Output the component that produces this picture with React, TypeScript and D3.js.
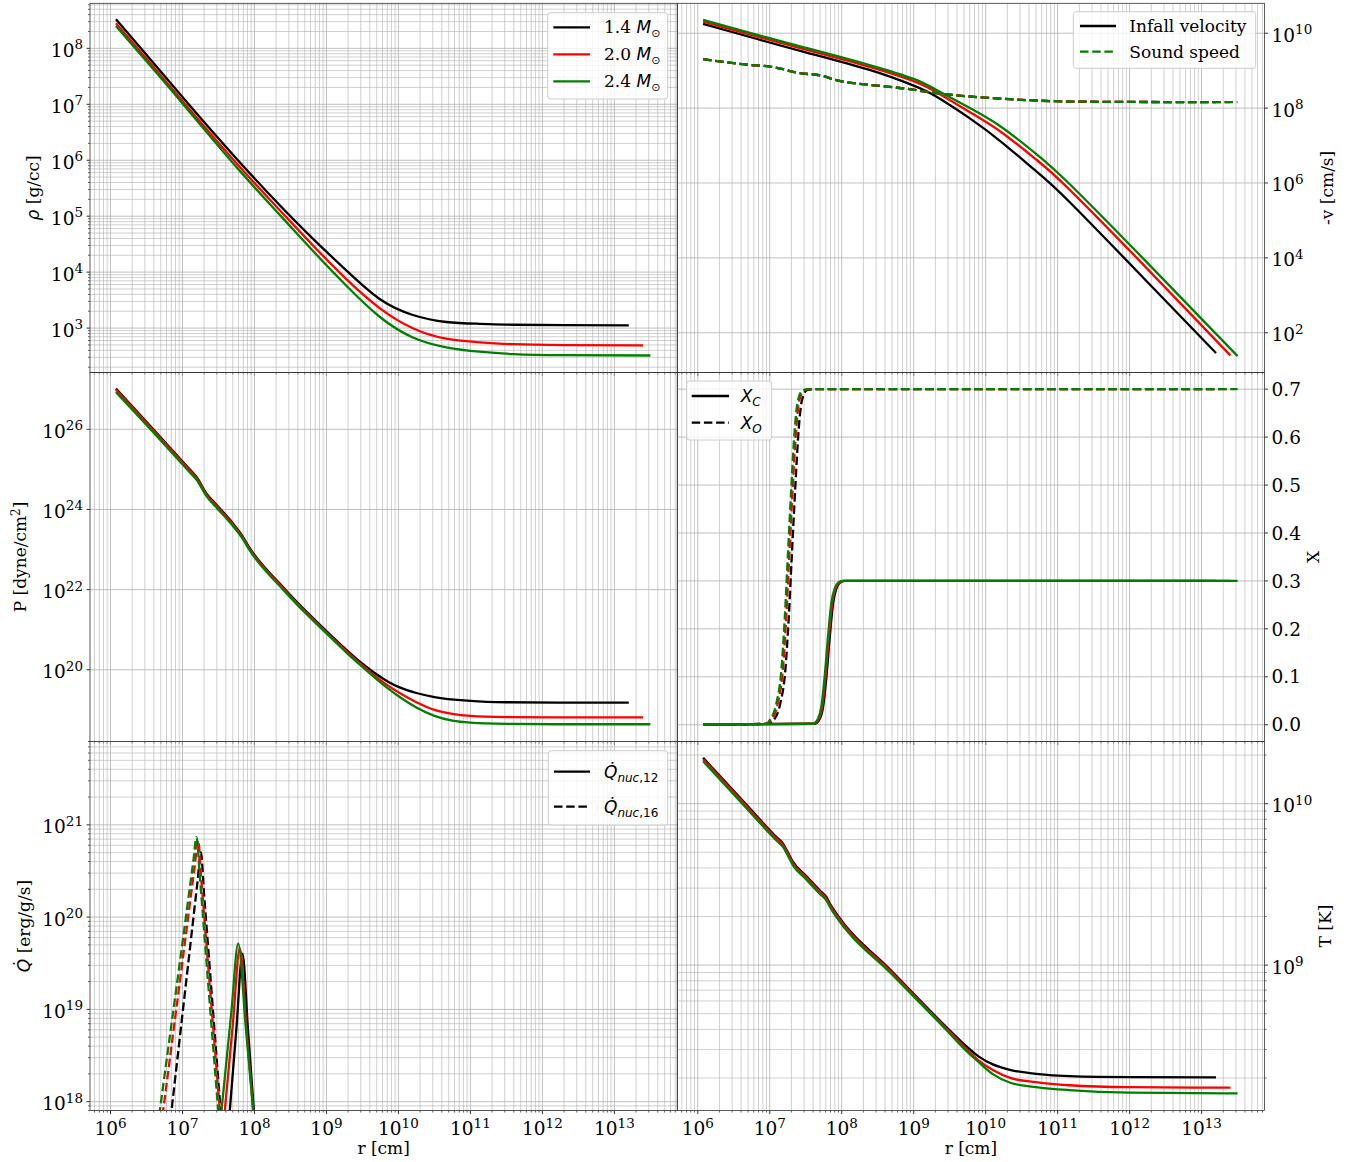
import React from "react";
import * as d3 from "d3";

// Profiles are stored as [log10 r (cm), log10 value]; abundances use the plain mass fraction.
type Pt = [number, number];

const MASS_LABELS = ["1.4", "2.0", "2.4"];
const MASS_COLORS = ["#000000", "#ff0000", "#008000"];

const X_LOG_DOMAIN: [number, number] = [5.7155, 13.874];
const X_LABEL = "r [cm]";

// Density rho [g/cc]
const RHO_14: Pt[] = [[6.076, 8.52], [6.6, 7.735], [7.08, 7.01], [7.77, 6.0], [8.352, 5.195], [8.814, 4.594], [9.277, 4.029], [9.739, 3.52], [10.201, 3.234], [10.665, 3.109], [11.127, 3.077], [11.6, 3.06], [12.3, 3.052], [13.2, 3.05]];
const RHO_20: Pt[] = [[6.076, 8.447], [6.6, 7.665], [7.08, 6.94], [7.77, 5.92], [8.352, 5.105], [8.814, 4.477], [9.277, 3.875], [9.739, 3.358], [10.201, 2.998], [10.665, 2.81], [11.127, 2.745], [11.6, 2.712], [12.3, 2.695], [13.4, 2.69]];
const RHO_24: Pt[] = [[6.076, 8.4], [6.6, 7.62], [7.08, 6.895], [7.77, 5.85], [8.352, 5.024], [8.814, 4.377], [9.277, 3.757], [9.739, 3.203], [10.201, 2.833], [10.665, 2.657], [11.127, 2.578], [11.6, 2.535], [12.3, 2.515], [13.5, 2.51]];

// Infall velocity -v [cm/s]
const VIN_14: Pt[] = [[6.074, 10.248], [6.8, 9.86], [7.461, 9.51], [8.387, 9.02], [9.0, 8.6], [9.312, 8.31], [9.8, 7.7], [10.237, 7.067], [10.7, 6.317], [11.162, 5.5], [12.2, 3.45], [13.2, 1.456]];
const VIN_20: Pt[] = [[6.074, 10.31], [6.8, 9.925], [7.461, 9.58], [8.387, 9.1], [9.0, 8.72], [9.312, 8.43], [9.8, 7.87], [10.237, 7.33], [10.7, 6.63], [11.162, 5.83], [12.2, 3.8], [13.4, 1.395]];
const VIN_24: Pt[] = [[6.074, 10.355], [6.8, 9.97], [7.461, 9.63], [8.387, 9.15], [9.0, 8.78], [9.312, 8.49], [9.8, 7.98], [10.237, 7.47], [10.7, 6.78], [11.162, 5.98], [12.2, 3.96], [13.5, 1.376]];

// Sound speed c_s [cm/s]
const CS_14: Pt[] = [[6.074, 9.307], [6.722, 9.155], [6.999, 9.11], [7.184, 9.04], [7.369, 8.95], [7.739, 8.86], [7.878, 8.77], [8.016, 8.71], [8.387, 8.62], [8.849, 8.53], [9.312, 8.4], [9.774, 8.31], [10.237, 8.25], [10.7, 8.203], [11.162, 8.176], [12.0, 8.165], [13.2, 8.16]];
const CS_20: Pt[] = [[6.074, 9.307], [6.722, 9.155], [6.999, 9.11], [7.184, 9.04], [7.369, 8.95], [7.739, 8.86], [7.878, 8.77], [8.016, 8.71], [8.387, 8.62], [8.849, 8.53], [9.312, 8.4], [9.774, 8.31], [10.237, 8.25], [10.7, 8.203], [11.162, 8.176], [12.0, 8.165], [13.4, 8.16]];
const CS_24: Pt[] = [[6.074, 9.307], [6.722, 9.155], [6.999, 9.11], [7.184, 9.04], [7.369, 8.95], [7.739, 8.86], [7.878, 8.77], [8.016, 8.71], [8.387, 8.62], [8.849, 8.53], [9.312, 8.4], [9.774, 8.31], [10.237, 8.25], [10.7, 8.203], [11.162, 8.176], [12.0, 8.165], [13.5, 8.16]];

// Pressure P [dyne/cm^2]
const P_14: Pt[] = [[6.076, 27.016], [6.594, 26.0], [7.1, 25.0], [7.196, 24.81], [7.335, 24.394], [7.45, 24.16], [7.704, 23.645], [7.843, 23.31], [7.912, 23.1], [8.398, 22.06], [8.75, 21.4], [9.09, 20.81], [9.3, 20.46], [9.5, 20.15], [9.7, 19.88], [9.85, 19.71], [10.017, 19.56], [10.25, 19.42], [10.5, 19.32], [11.0, 19.225], [11.5, 19.19], [12.2, 19.18], [13.2, 19.18]];
const P_20: Pt[] = [[6.076, 26.99], [6.594, 25.975], [7.1, 24.975], [7.196, 24.785], [7.335, 24.37], [7.45, 24.135], [7.704, 23.62], [7.843, 23.285], [7.912, 23.075], [8.398, 22.035], [8.75, 21.375], [9.09, 20.78], [9.3, 20.43], [9.5, 20.11], [9.7, 19.81], [9.85, 19.61], [10.017, 19.42], [10.25, 19.19], [10.5, 19.0], [10.75, 18.9], [11.0, 18.85], [11.5, 18.82], [12.2, 18.81], [13.4, 18.81]];
const P_24: Pt[] = [[6.076, 26.93], [6.594, 25.93], [7.1, 24.93], [7.196, 24.74], [7.335, 24.33], [7.45, 24.09], [7.704, 23.58], [7.843, 23.25], [7.912, 23.04], [8.398, 22.0], [8.75, 21.34], [9.09, 20.75], [9.3, 20.39], [9.5, 20.07], [9.7, 19.76], [9.85, 19.54], [10.017, 19.32], [10.25, 19.06], [10.5, 18.85], [10.75, 18.73], [11.0, 18.68], [11.5, 18.65], [12.2, 18.64], [13.5, 18.64]];

// Carbon mass fraction X_C
const XC_14: Pt[] = [[6.074, 0], [7.625, 0.002], [7.695, 0.0125], [7.741, 0.037], [7.787, 0.099], [7.834, 0.183], [7.88, 0.253], [7.926, 0.284], [7.972, 0.296], [8.041, 0.3], [13.2, 0.3]];
const XC_20: Pt[] = [[6.074, 0], [7.612, 0.002], [7.682, 0.0125], [7.728, 0.037], [7.774, 0.099], [7.821, 0.183], [7.867, 0.253], [7.913, 0.284], [7.959, 0.296], [8.028, 0.3], [13.4, 0.3]];
const XC_24: Pt[] = [[6.074, 0], [7.6, 0.002], [7.67, 0.0125], [7.716, 0.037], [7.762, 0.099], [7.809, 0.183], [7.855, 0.253], [7.901, 0.284], [7.947, 0.296], [8.016, 0.3], [13.5, 0.3]];

// Oxygen mass fraction X_O
const XO_14: Pt[] = [[6.074, 0], [7.008, 0.002], [7.054, 0.009], [7.146, 0.044], [7.216, 0.113], [7.262, 0.218], [7.308, 0.357], [7.355, 0.496], [7.401, 0.614], [7.447, 0.677], [7.517, 0.698], [7.609, 0.7], [13.2, 0.7]];
const XO_20: Pt[] = [[6.074, 0], [6.973, 0.002], [7.019, 0.009], [7.111, 0.044], [7.181, 0.113], [7.227, 0.218], [7.273, 0.357], [7.32, 0.496], [7.366, 0.614], [7.412, 0.677], [7.482, 0.698], [7.574, 0.7], [13.4, 0.7]];
const XO_24: Pt[] = [[6.074, 0], [6.953, 0.002], [6.999, 0.009], [7.091, 0.044], [7.161, 0.113], [7.207, 0.218], [7.253, 0.357], [7.3, 0.496], [7.346, 0.614], [7.392, 0.677], [7.462, 0.698], [7.554, 0.7], [13.5, 0.7]];

// Nuclear heating rates [erg/g/s]
const Q12_14: Pt[] = [[7.6, 17.35], [7.658, 17.91], [7.75, 18.8], [7.834, 19.605], [7.91, 18.78], [7.991, 17.91], [8.06, 17.17]];
const Q12_20: Pt[] = [[7.52, 17.33], [7.589, 17.91], [7.7, 18.84], [7.797, 19.66], [7.89, 18.78], [7.982, 17.91], [8.06, 17.17]];
const Q12_24: Pt[] = [[7.47, 17.33], [7.543, 17.91], [7.68, 18.98], [7.774, 19.712], [7.88, 18.8], [7.982, 17.91], [8.06, 17.23]];
const Q16_14: Pt[] = [[6.68, 16.75], [6.849, 17.91], [7.05, 19.29], [7.21, 20.39], [7.256, 20.7], [7.3, 20.25], [7.4, 19.23], [7.529, 17.91], [7.63, 16.9]];
const Q16_20: Pt[] = [[6.55, 16.8], [6.733, 17.91], [7.0, 19.52], [7.17, 20.55], [7.218, 20.83], [7.26, 20.42], [7.37, 19.35], [7.519, 17.91], [7.62, 16.9]];
const Q16_24: Pt[] = [[6.5, 16.8], [6.687, 17.91], [7.0, 19.72], [7.15, 20.6], [7.196, 20.866], [7.24, 20.45], [7.35, 19.35], [7.496, 17.91], [7.6, 16.9]];

// Temperature T [K]
const T_14: Pt[] = [[6.074, 10.284], [6.6, 10.03], [7.1, 9.79], [7.184, 9.753], [7.25, 9.7], [7.323, 9.639], [7.5, 9.555], [7.693, 9.464], [7.786, 9.422], [7.85, 9.37], [7.924, 9.32], [8.7, 8.96], [9.45, 8.618], [9.7, 8.51], [9.9, 8.435], [10.1, 8.385], [10.35, 8.35], [10.7, 8.327], [11.16, 8.312], [12.0, 8.306], [13.2, 8.305]];
const T_20: Pt[] = [[6.074, 10.276], [6.6, 10.022], [7.1, 9.782], [7.184, 9.745], [7.25, 9.692], [7.323, 9.631], [7.5, 9.547], [7.693, 9.456], [7.786, 9.414], [7.85, 9.362], [7.924, 9.312], [8.7, 8.952], [9.45, 8.61], [9.7, 8.495], [9.9, 8.41], [10.1, 8.35], [10.35, 8.3], [10.7, 8.275], [11.16, 8.256], [12.0, 8.244], [13.4, 8.241]];
const T_24: Pt[] = [[6.074, 10.263], [6.6, 10.009], [7.1, 9.769], [7.184, 9.732], [7.25, 9.679], [7.323, 9.618], [7.5, 9.534], [7.693, 9.443], [7.786, 9.401], [7.85, 9.349], [7.924, 9.299], [8.7, 8.942], [9.45, 8.6], [9.7, 8.483], [9.9, 8.4], [10.1, 8.325], [10.35, 8.27], [10.7, 8.245], [11.16, 8.226], [12.0, 8.21], [13.5, 8.206]];

// Axis ranges (log10 bounds for log axes)
const RHO_LIM: [number, number] = [2.208, 8.805];
const VEL_LIM: [number, number] = [0.94, 10.8];
const P_LIM: [number, number] = [18.21, 27.42];
const X_LIM: [number, number] = [-0.035, 0.735];
const Q_LIM: [number, number] = [Math.log10(8e17), Math.log10(8e21)];
const T_LIM: [number, number] = [8.099, 10.385];

const X_TICKS = [0, 0.1, 0.2, 0.3, 0.4, 0.5, 0.6, 0.7];

const SERIF = "'DejaVu Serif', serif";
const MATH = "'DejaVu Sans', sans-serif";
const TICK_FS = 18.5;
const SUP_FS = 13.5;
const LABEL_FS = 17;
const LEG_FS = 17;
const LW = 2.3;
const DASH = "8.5,3.7";
const GRID = "#b0b0b0";

const COLS: [number, number][] = [[90, 677.3], [677.3, 1264.5]];
const ROWS: [number, number][] = [[3.3, 372.4], [372.4, 741.5], [741.5, 1110.6]];

type CurveKind = "smooth" | "monotone";
interface Series { pts: Pt[]; color: string; dashed?: boolean; curve: CurveKind }
interface LegendEntry { color: string; dashed?: boolean; label: React.ReactNode }
interface LegendCfg { box: [number, number, number, number]; ys: number[]; lineX: [number, number]; textX: number; entries: LegendEntry[] }
interface PanelCfg {
  id: string; col: number; row: number;
  yType: "log" | "linear"; lim: [number, number];
  majorStep: number; yMinor: boolean;
  series: Series[];
  yLabel: React.ReactNode; yLabelX: number;
  legend?: LegendCfg; xLabels?: boolean;
}

function logGrid(lo: number, hi: number) {
  const major: number[] = [];
  const minor: number[] = [];
  for (let e = Math.floor(lo); e <= Math.ceil(hi); e++) {
    for (let k = 1; k <= 9; k++) {
      const l = Math.log10(k * Math.pow(10, e));
      if (l < lo - 1e-9 || l > hi + 1e-9) continue;
      (k === 1 ? major : minor).push(k * Math.pow(10, e));
    }
  }
  return { major, minor };
}

function Pow10({ e, x, y, anchor }: { e: number; x: number; y: number; anchor: string }) {
  return (
    <text x={x} y={y} textAnchor={anchor} fontSize={TICK_FS} fontFamily={SERIF} fill="#000">
      <tspan>10</tspan>
      <tspan dy={-7.5} fontSize={SUP_FS}>{e}</tspan>
    </text>
  );
}

function Legend({ cfg }: { cfg: LegendCfg }) {
  const [bx, by, bw, bh] = cfg.box;
  return (
    <g>
      <rect x={bx} y={by} width={bw} height={bh} rx={3} fill="#fff" fillOpacity={0.8} stroke="#cccccc" strokeWidth={1} />
      {cfg.entries.map((en, i) => (
        <g key={i}>
          <line x1={cfg.lineX[0]} x2={cfg.lineX[1]} y1={cfg.ys[i]} y2={cfg.ys[i]} stroke={en.color} strokeWidth={LW} strokeDasharray={en.dashed ? DASH : undefined} />
          <text x={cfg.textX} y={cfg.ys[i] + 6} fontSize={LEG_FS} fontFamily={SERIF}>{en.label}</text>
        </g>
      ))}
    </g>
  );
}

function Panel({ cfg }: { cfg: PanelCfg }) {
  const [x0, x1] = COLS[cfg.col];
  const [y0, y1] = ROWS[cfg.row];
  const side = cfg.col === 0 ? "left" : "right";
  const xs = d3.scaleLog().domain([Math.pow(10, X_LOG_DOMAIN[0]), Math.pow(10, X_LOG_DOMAIN[1])]).range([x0, x1]);
  const isLog = cfg.yType === "log";
  const ys: (v: number) => number = isLog
    ? d3.scaleLog().domain([Math.pow(10, cfg.lim[0]), Math.pow(10, cfg.lim[1])]).range([y1, y0])
    : d3.scaleLinear().domain(cfg.lim).range([y1, y0]);
  const makeLine = (kind: CurveKind) => d3.line<Pt>()
    .x((d) => xs(Math.pow(10, d[0])))
    .y((d) => ys(isLog ? Math.pow(10, d[1]) : d[1]))
    .curve(kind === "smooth" ? d3.curveNatural : d3.curveMonotoneX);

  const xg = logGrid(X_LOG_DOMAIN[0], X_LOG_DOMAIN[1]);
  let yMajor: number[] = [];
  let yMinor: number[] = [];
  if (isLog) {
    const g = logGrid(cfg.lim[0], cfg.lim[1]);
    yMajor = g.major.filter((v) => Math.round(Math.log10(v)) % cfg.majorStep === 0);
    yMinor = cfg.yMinor ? g.minor : [];
  } else {
    yMajor = X_TICKS;
  }
  const tickDir = side === "left" ? -1 : 1;
  const axX = side === "left" ? x0 : x1;
  const clipId = `clip-${cfg.id}`;
  const ymid = (y0 + y1) / 2;

  return (
    <g>
      <defs>
        <clipPath id={clipId}>
          <rect x={x0} y={y0} width={x1 - x0} height={y1 - y0} />
        </clipPath>
      </defs>
      {/* grid */}
      <g stroke={GRID} strokeWidth={0.8} strokeOpacity={0.75}>
        {xg.minor.map((v, i) => <line key={`xm${i}`} x1={xs(v)} x2={xs(v)} y1={y0} y2={y1} />)}
        {yMinor.map((v, i) => <line key={`ym${i}`} x1={x0} x2={x1} y1={ys(v)} y2={ys(v)} />)}
      </g>
      <g stroke={GRID} strokeWidth={0.8}>
        {xg.major.map((v, i) => <line key={`xM${i}`} x1={xs(v)} x2={xs(v)} y1={y0} y2={y1} />)}
        {yMajor.map((v, i) => <line key={`yM${i}`} x1={x0} x2={x1} y1={ys(v)} y2={ys(v)} />)}
      </g>
      {/* curves */}
      <g clipPath={`url(#${clipId})`} fill="none">
        {cfg.series.map((s, i) => (
          <path key={i} d={makeLine(s.curve)(s.pts) || ""} stroke={s.color} strokeWidth={LW} strokeDasharray={s.dashed ? DASH : undefined} strokeLinejoin="round" />
        ))}
      </g>
      {/* ticks */}
      <g stroke="#000">
        {xg.major.map((v, i) => <line key={`xt${i}`} x1={xs(v)} x2={xs(v)} y1={y1} y2={y1 + 3.5} strokeWidth={0.8} />)}
        {xg.minor.map((v, i) => <line key={`xn${i}`} x1={xs(v)} x2={xs(v)} y1={y1} y2={y1 + 2} strokeWidth={0.6} />)}
        {yMajor.map((v, i) => <line key={`yt${i}`} x1={axX} x2={axX + tickDir * 3.5} y1={ys(v)} y2={ys(v)} strokeWidth={0.8} />)}
        {yMinor.map((v, i) => <line key={`yn${i}`} x1={axX} x2={axX + tickDir * 2} y1={ys(v)} y2={ys(v)} strokeWidth={0.6} />)}
      </g>
      {/* spines */}
      <rect x={x0} y={y0} width={x1 - x0} height={y1 - y0} fill="none" stroke="#333" strokeWidth={0.8} />
      {/* y tick labels */}
      {yMajor.map((v, i) =>
        isLog ? (
          <Pow10 key={`yl${i}`} e={Math.round(Math.log10(v))} x={axX + tickDir * 7} y={ys(v) + 8.5} anchor={side === "left" ? "end" : "start"} />
        ) : (
          <text key={`yl${i}`} x={axX + tickDir * 7} y={ys(v) + 6.7} textAnchor="start" fontSize={TICK_FS} fontFamily={SERIF}>
            {d3.format(".1f")(v)}
          </text>
        )
      )}
      {/* x tick labels */}
      {cfg.xLabels && xg.major.map((v, i) => (
        <Pow10 key={`xl${i}`} e={Math.round(Math.log10(v))} x={xs(v)} y={1135} anchor="middle" />
      ))}
      {cfg.xLabels && (
        <text x={(x0 + x1) / 2} y={1154} textAnchor="middle" fontSize={LABEL_FS} fontFamily={SERIF}>{X_LABEL}</text>
      )}
      {/* y axis label */}
      <text transform={`translate(${cfg.yLabelX},${ymid}) rotate(-90)`} textAnchor="middle" fontSize={LABEL_FS} fontFamily={SERIF}>
        {cfg.yLabel}
      </text>
      {cfg.legend && <Legend cfg={cfg.legend} />}
    </g>
  );
}

const massLabel = (m: string) => (
  <>
    <tspan>{m} </tspan>
    <tspan fontFamily={MATH} fontStyle="italic">M</tspan>
    <tspan fontFamily={MATH} fontSize={11} dy={4}>⊙</tspan>
  </>
);

const subLabel = (base: string, sub: string, subUp?: string) => (
  <>
    <tspan fontFamily={MATH} fontStyle="italic">{base}</tspan>
    <tspan fontFamily={MATH} fontStyle="italic" fontSize={12} dy={4}>{sub}</tspan>
    {subUp && <tspan fontFamily={MATH} fontSize={12}>{subUp}</tspan>}
  </>
);

export default function App() {
  const byMass = (a: Pt[][], curve: CurveKind): Series[] => a.map((pts, i) => ({ pts, color: MASS_COLORS[i], curve }));
  const interleave = (a: Pt[][], b: Pt[][], ca: CurveKind, cb: CurveKind): Series[] => {
    const out: Series[] = [];
    a.forEach((pts, i) => {
      out.push({ pts, color: MASS_COLORS[i], curve: ca });
      out.push({ pts: b[i], color: MASS_COLORS[i], dashed: true, curve: cb });
    });
    return out;
  };

  const panels: PanelCfg[] = [
    {
      id: "rho", col: 0, row: 0, yType: "log", lim: RHO_LIM, majorStep: 1, yMinor: true,
      series: byMass([RHO_14, RHO_20, RHO_24], "smooth"),
      yLabel: (<><tspan fontFamily={MATH} fontStyle="italic">ρ</tspan><tspan>{" [g/cc]"}</tspan></>),
      yLabelX: 39,
      legend: {
        box: [547.7, 12.7, 120, 86.3], ys: [27.3, 54.3, 81.3], lineX: [553.3, 590], textX: 604,
        entries: MASS_LABELS.map((m, i) => ({ color: MASS_COLORS[i], label: massLabel(m) })),
      },
    },
    {
      id: "vel", col: 1, row: 0, yType: "log", lim: VEL_LIM, majorStep: 2, yMinor: false,
      series: interleave([VIN_14, VIN_20, VIN_24], [CS_14, CS_20, CS_24], "smooth", "monotone"),
      yLabel: "-v [cm/s]", yLabelX: 1333,
      legend: {
        box: [1073.3, 11.7, 182.4, 56.6], ys: [26, 51.7], lineX: [1080, 1116], textX: 1129.3,
        entries: [
          { color: "#000000", label: "Infall velocity" },
          { color: "#008000", dashed: true, label: "Sound speed" },
        ],
      },
    },
    {
      id: "pres", col: 0, row: 1, yType: "log", lim: P_LIM, majorStep: 2, yMinor: false,
      series: byMass([P_14, P_20, P_24], "monotone"),
      yLabel: (<><tspan>P [dyne/cm</tspan><tspan dy={-6} fontSize={12}>2</tspan><tspan dy={6}>]</tspan></>),
      yLabelX: 26,
    },
    {
      id: "abund", col: 1, row: 1, yType: "linear", lim: X_LIM, majorStep: 1, yMinor: false,
      series: interleave([XC_14, XC_20, XC_24], [XO_14, XO_20, XO_24], "monotone", "monotone"),
      yLabel: "X", yLabelX: 1319,
      legend: {
        box: [686.7, 381, 85, 59], ys: [396, 422.7], lineX: [691.7, 729], textX: 740.7,
        entries: [
          { color: "#000000", label: subLabel("X", "C") },
          { color: "#000000", dashed: true, label: subLabel("X", "O") },
        ],
      },
    },
    {
      id: "qdot", col: 0, row: 2, yType: "log", lim: Q_LIM, majorStep: 1, yMinor: true,
      series: interleave([Q12_14, Q12_20, Q12_24], [Q16_14, Q16_20, Q16_24], "monotone", "monotone"),
      yLabel: (<><tspan fontFamily={MATH} fontStyle="italic">{"Q\u0307"}</tspan><tspan>{" [erg/g/s]"}</tspan></>),
      yLabelX: 29.5, xLabels: true,
      legend: {
        box: [548.3, 750.7, 119.4, 74.3], ys: [771.7, 806.7], lineX: [554, 590], textX: 604,
        entries: [
          { color: "#000000", label: subLabel("Q\u0307", "nuc", ",12") },
          { color: "#000000", dashed: true, label: subLabel("Q\u0307", "nuc", ",16") },
        ],
      },
    },
    {
      id: "temp", col: 1, row: 2, yType: "log", lim: T_LIM, majorStep: 1, yMinor: true,
      series: byMass([T_14, T_20, T_24], "monotone"),
      yLabel: "T [K]", yLabelX: 1331, xLabels: true,
    },
  ];

  return (
    <svg width={1351} height={1162} style={{ position: "absolute", left: 0, top: 0, background: "#fff" }}>
      <rect x={0} y={0} width={1351} height={1162} fill="#fff" />
      {panels.map((p) => <Panel key={p.id} cfg={p} />)}
    </svg>
  );
}
